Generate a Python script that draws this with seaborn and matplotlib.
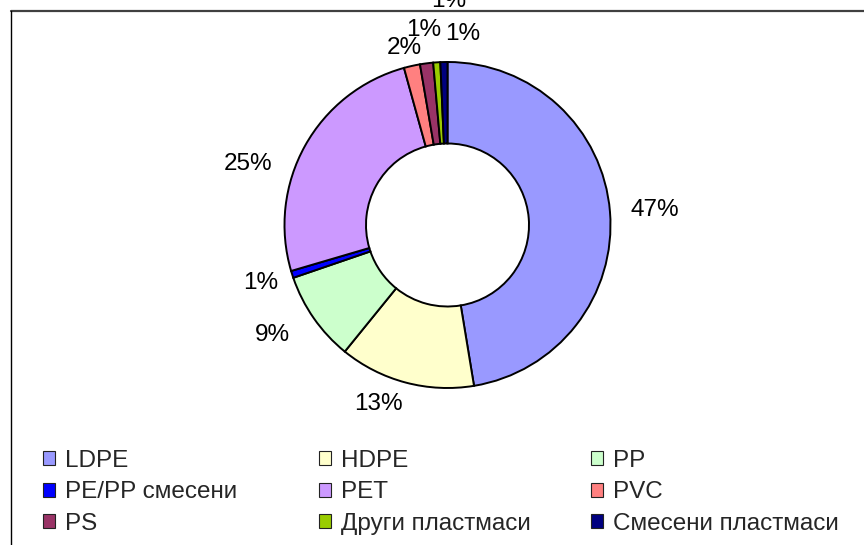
import matplotlib
matplotlib.use("Agg")
import numpy as np
import matplotlib.pyplot as plt
from matplotlib.patches import Patch
from matplotlib.lines import Line2D
import seaborn as sns

# shares of plastic types (%)
categories = ["LDPE", "HDPE", "PP", "PE/PP смесени", "PET", "PVC", "PS",
              "Други пластмаси", "Смесени пластмаси"]
shares = [47.4, 13.45, 8.9, 0.7, 25.25, 1.6, 1.3, 0.7, 0.7]
colors = ["#9999FF", "#FFFFCC", "#CCFFCC", "#0000FF", "#CC99FF",
          "#FF8080", "#993366", "#99CC00", "#000080"]

sns.set_theme(style="white")
plt.rcParams["font.family"] = ["Liberation Sans", "DejaVu Sans"]
palette = sns.color_palette(colors)

W, H = 864, 545
fig = plt.figure(figsize=(W / 100, H / 100), dpi=100)
ax = fig.add_axes([0, 0, 1, 1])

cx, cy, R = 447.5, H - 225, 163
wedges, _ = ax.pie(shares, colors=palette, startangle=90, counterclock=False,
                   center=(cx, cy), radius=R,
                   wedgeprops=dict(width=R / 2, edgecolor="black", linewidth=1.4))
ax.set_xlim(0, W)
ax.set_ylim(0, H)
ax.set_aspect("equal")
ax.axis("off")

# label nudges in screen pixels (dx right, dy down), Excel-like placement
nudges = [(4, 2), (-17, -18), (-8, -7), (7, -4), (-21, 38),
          (1, 22), (2, 7), (29, 12), (6, -20)]
for w, v, (dx, dy) in zip(wedges, shares, nudges):
    mid = np.deg2rad((w.theta1 + w.theta2) / 2)
    x = cx + 1.25 * R * np.cos(mid) + dx
    y = cy + 1.25 * R * np.sin(mid) - dy
    ax.text(x, y, f"{v:.0f}%", ha="center", va="center", fontsize=17.5, color="black")

# chart area border (top and left visible)
fig.add_artist(Line2D([11 / W, 1], [1 - 10.5 / H] * 2, transform=fig.transFigure,
                      color="#404040", lw=1.6))
fig.add_artist(Line2D([11 / W] * 2, [0, 1 - 10.5 / H], transform=fig.transFigure,
                      color="black", lw=1.0))

handles = [Patch(facecolor=c, edgecolor="#222222", linewidth=0.8) for c in palette]
col_x = [43, 319, 591]
for j in range(3):
    idx = [j, j + 3, j + 6]
    fig.legend([handles[i] for i in idx], [categories[i] for i in idx],
               loc="upper left", bbox_to_anchor=(col_x[j] / W, 1 - 450 / H),
               frameon=False, fontsize=17.5, handlelength=0.5, handleheight=0.5,
               handletextpad=0.41, labelspacing=0.39, borderpad=0, borderaxespad=0)

fig.savefig("out.png", dpi=100, facecolor="white")
